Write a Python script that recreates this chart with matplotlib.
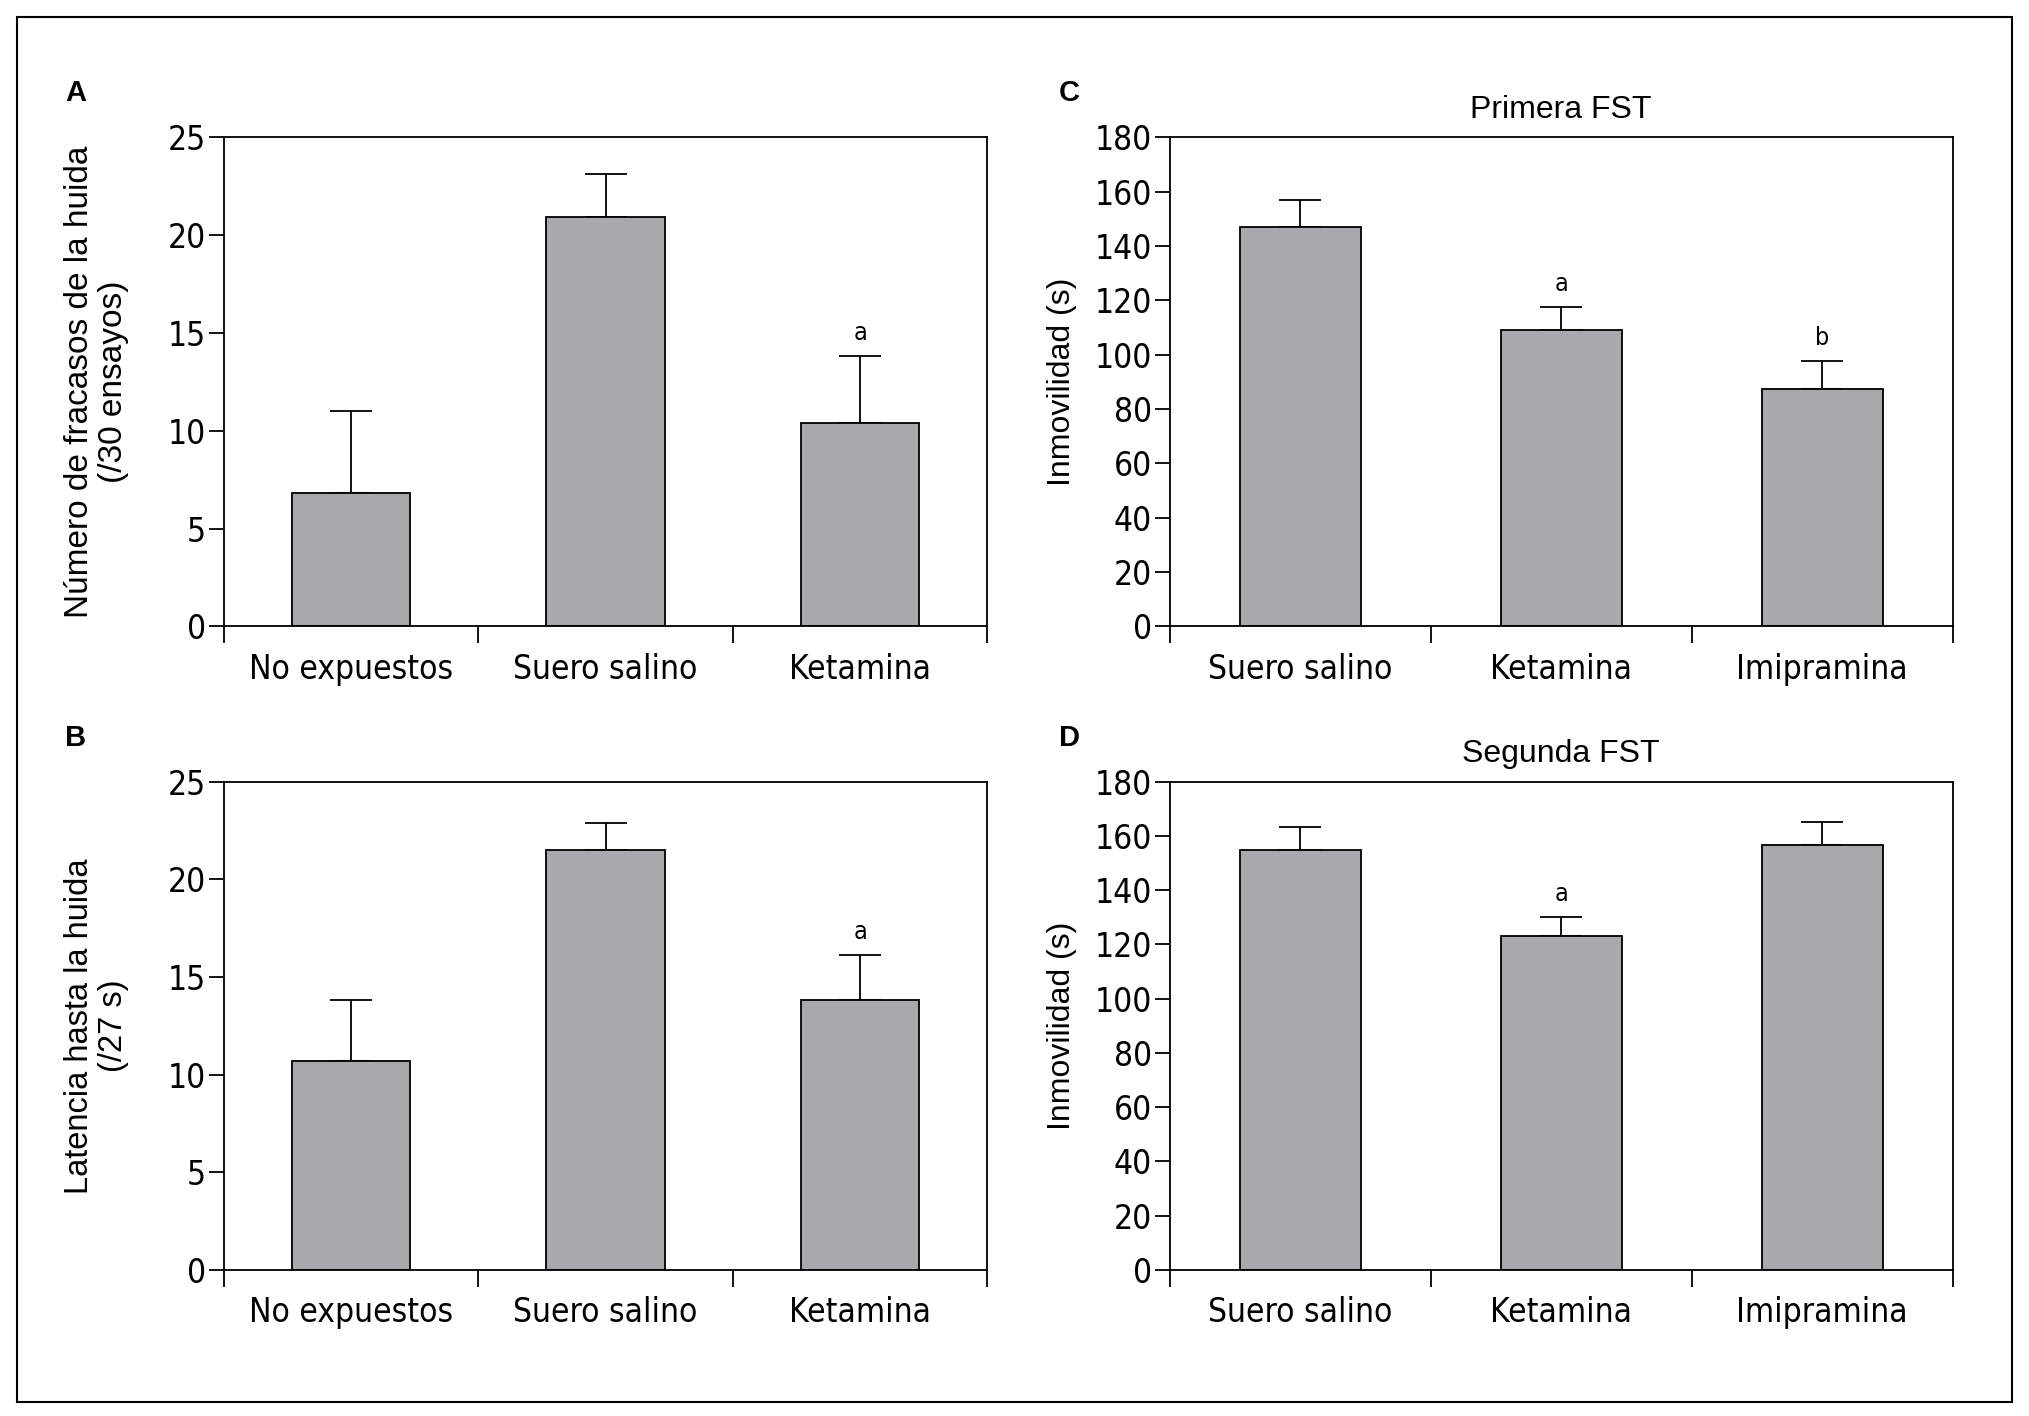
import matplotlib
matplotlib.use("Agg")
import matplotlib.pyplot as plt
from matplotlib import font_manager
from matplotlib.patches import Rectangle

# data
groups_ab = ["No expuestos", "Suero salino", "Ketamina"]
groups_cd = ["Suero salino", "Ketamina", "Imipramina"]

fracasos = [6.8, 20.9, 10.4]
fracasos_err = [4.2, 2.2, 3.4]
fracasos_sig = ["", "", "a"]

latencia = [10.7, 21.5, 13.8]
latencia_err = [3.1, 1.4, 2.3]
latencia_sig = ["", "", "a"]

primera_fst = [147, 109, 87.5]
primera_err = [10, 8.5, 10]
primera_sig = ["", "a", "b"]

segunda_fst = [155, 123, 156.5]
segunda_err = [8.5, 7, 8.5]
segunda_sig = ["", "a", ""]

# pick a narrow face for tick labels if one is installed
fonts = font_manager.fontManager.ttflist
names = {f.name for f in fonts}
if "Liberation Sans Narrow" in names:
    COND = dict(family="Liberation Sans Narrow")
    TICK_SIZE = 25
elif any(f.name == "DejaVu Sans" and f.stretch == "condensed" for f in fonts):
    COND = dict(family="DejaVu Sans", stretch="condensed")
    TICK_SIZE = 24
else:
    COND = dict(family="DejaVu Sans")
    TICK_SIZE = 21
REG = "Liberation Sans" if "Liberation Sans" in names else "DejaVu Sans"

BAR_COLOR = "#a8a9ac"
LW = 1.3

fig = plt.figure(figsize=(20.29, 14.16), dpi=100)
fig.patches.append(Rectangle((0.0083, 0.010), 0.9834, 0.978, transform=fig.transFigure,
                             fill=False, edgecolor="black", linewidth=1.5))


def panel(rect, cats, vals, errs, sigs, ymax, ystep, ylabel, label_x, title=None,
          letter=None, letter_x=0.0, label_size=23):
    ax = fig.add_axes(rect)
    x = list(range(len(cats)))
    ax.bar(x, vals, width=0.465, color=BAR_COLOR, edgecolor="black", linewidth=LW, zorder=2)
    ax.errorbar(x, vals, yerr=[[0] * len(vals), errs], fmt="none", ecolor="black",
                elinewidth=LW, capsize=15, capthick=LW, zorder=1)
    for xi, v, e, s in zip(x, vals, errs, sigs):
        if s:
            ax.annotate(s, (xi, v + e), xytext=(0, 8), textcoords="offset points",
                        ha="center", va="bottom", fontsize=18, **COND)
    ax.set_xlim(-0.5, len(cats) - 0.5)
    ax.set_ylim(0, ymax)
    ax.set_yticks(range(0, ymax + 1, ystep))
    ax.set_xticks([i - 0.5 for i in range(len(cats) + 1)])
    ax.set_xticklabels([])
    ax.set_xticks(x, minor=True)
    ax.set_xticklabels(cats, minor=True)
    ax.tick_params(axis="x", which="major", direction="out", length=12, width=LW)
    ax.tick_params(axis="x", which="minor", length=0, pad=19, labelsize=TICK_SIZE)
    ax.tick_params(axis="y", direction="out", length=11, width=LW, pad=2, labelsize=TICK_SIZE)
    for lab in ax.get_xticklabels(minor=True) + ax.get_yticklabels():
        lab.set_family(COND["family"])
        if "stretch" in COND:
            lab.set_stretch(COND["stretch"])
    for sp in ax.spines.values():
        sp.set_linewidth(LW)
    ax.set_ylabel(ylabel, fontsize=label_size, family=REG, linespacing=1.15)
    ax.yaxis.set_label_coords(label_x, 0.5)
    if title:
        ax.set_title(title, fontsize=23, family=REG, pad=14)
    if letter:
        fig.text(letter_x, rect[1] + rect[3] + 0.031, letter, fontsize=21,
                 fontweight="bold", family=REG, ha="left", va="center")
    return ax


panel([0.1103, 0.5576, 0.3763, 0.3455], groups_ab, fracasos, fracasos_err, fracasos_sig,
      25, 5, "Número de fracasos de la huida\n(/30 ensayos)", -0.124, letter="A",
      letter_x=0.032, label_size=24)
panel([0.1103, 0.1033, 0.3763, 0.3446], groups_ab, latencia, latencia_err, latencia_sig,
      25, 5, "Latencia hasta la huida\n(/27 s)", -0.124, letter="B", letter_x=0.032,
      label_size=23.5)
panel([0.5765, 0.5576, 0.3859, 0.3455], groups_cd, primera_fst, primera_err, primera_sig,
      180, 20, "Inmovilidad (s)", -0.119, title="Primera FST", letter="C",
      letter_x=0.522)
panel([0.5765, 0.1033, 0.3859, 0.3446], groups_cd, segunda_fst, segunda_err, segunda_sig,
      180, 20, "Inmovilidad (s)", -0.119, title="Segunda FST", letter="D",
      letter_x=0.522)

fig.savefig("out.png", dpi=100)
